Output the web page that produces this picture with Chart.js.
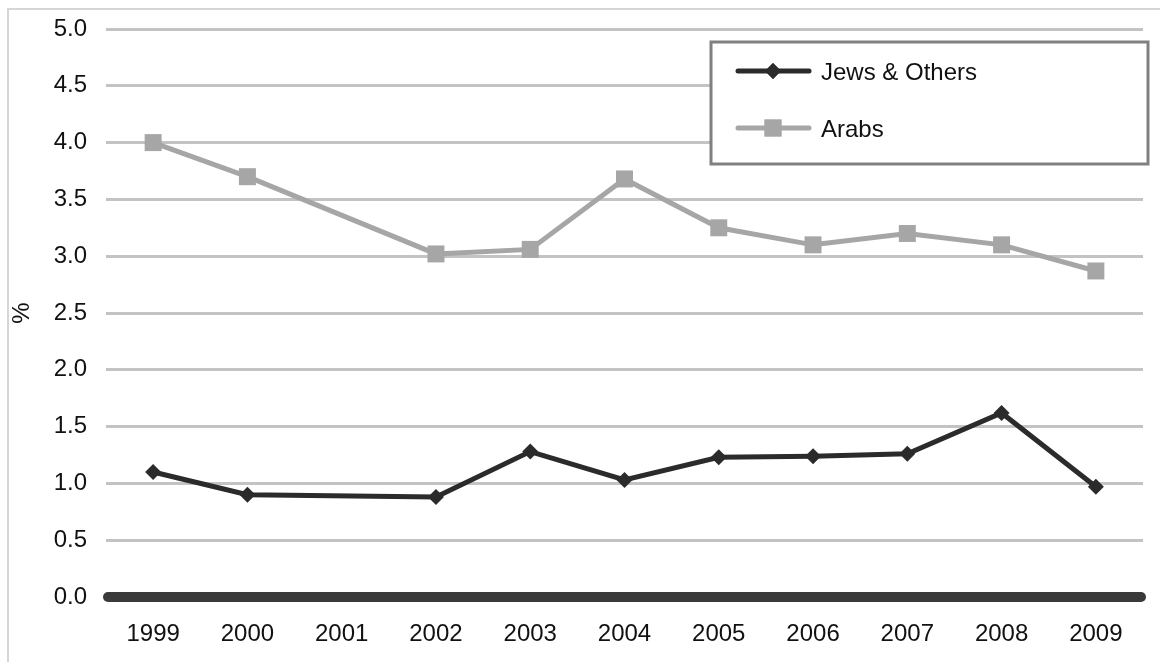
<!DOCTYPE html>
<html>
<head>
<meta charset="utf-8">
<script src="https://cdn.jsdelivr.net/npm/chart.js@4"></script>
<style>
  html, body { margin: 0; padding: 0; background: #fff; }
  #wrap { position: relative; width: 1160px; height: 662px; }
</style>
</head>
<body>
<div id="wrap"><canvas id="rateChart" width="1160" height="662"></canvas></div>
<script>
// ── Data ──────────────────────────────────────────────────────────────────────
const years       = ['1999', '2000', '2001', '2002', '2003', '2004', '2005', '2006', '2007', '2008', '2009'];
const jewsOthers  = [1.10, 0.90, null, 0.88, 1.28, 1.03, 1.23, 1.24, 1.26, 1.62, 0.97];
const arabs       = [4.00, 3.70, null, 3.02, 3.06, 3.68, 3.25, 3.10, 3.20, 3.10, 2.87];
const yTicks      = [0, 0.5, 1, 1.5, 2, 2.5, 3, 3.5, 4, 4.5, 5];

const FONT = '"Liberation Sans", Arial, sans-serif';
const DARK = '#2b2b2b';
const GREY = '#a6a6a6';

// ── Plugins ───────────────────────────────────────────────────────────────────

// light frame around the whole picture
const framePlugin = {
  id: 'frame',
  beforeDraw(chart) {
    const ctx = chart.ctx;
    ctx.save();
    ctx.strokeStyle = '#d6d6d6';
    ctx.lineWidth = 2;
    ctx.strokeRect(8, 9, 1300, 800);
    ctx.restore();
  }
};

// thick zero baseline with round ends
const zeroLine = {
  id: 'zeroLine',
  afterDatasetsDraw(chart) {
    const { ctx, chartArea, scales } = chart;
    const y = scales.y.getPixelForValue(0);
    ctx.save();
    ctx.strokeStyle = '#3a3a3a';
    ctx.lineWidth = 10;
    ctx.lineCap = 'round';
    ctx.beginPath();
    ctx.moveTo(chartArea.left + 2, y);
    ctx.lineTo(chartArea.right - 2, y);
    ctx.stroke();
    ctx.restore();
  }
};

// boxed legend, top right inside the plot
const boxLegend = {
  id: 'boxLegend',
  afterDraw(chart) {
    const ctx = chart.ctx;
    const box = { x: 711, y: 42, w: 437, h: 122 };
    ctx.save();
    ctx.fillStyle = '#fff';
    ctx.fillRect(box.x, box.y, box.w, box.h);
    ctx.strokeStyle = '#808080';
    ctx.lineWidth = 3;
    ctx.strokeRect(box.x, box.y, box.w, box.h);

    const rows = [71, 128];
    chart.data.datasets.forEach((ds, i) => {
      const y = rows[i];
      ctx.strokeStyle = ds.borderColor;
      ctx.lineWidth = ds.borderWidth;
      ctx.lineCap = 'round';
      ctx.beginPath();
      ctx.moveTo(738, y);
      ctx.lineTo(809, y);
      ctx.stroke();
      ctx.fillStyle = ds.pointBackgroundColor;
      Chart.helpers.drawPoint(ctx, { pointStyle: ds.pointStyle, radius: ds.pointRadius, borderWidth: 0 }, 773, y);
      ctx.fill();
      ctx.fillStyle = '#111';
      ctx.font = '24px ' + FONT;
      ctx.textBaseline = 'middle';
      ctx.fillText(ds.label, 821, y + 2);
    });
    ctx.restore();
  }
};

// ── Chart ─────────────────────────────────────────────────────────────────────

new Chart(document.getElementById('rateChart'), {
  type: 'line',
  data: {
    labels: years,
    datasets: [
      {
        label: 'Jews & Others',
        data: jewsOthers,
        borderColor: DARK,
        backgroundColor: DARK,
        pointBackgroundColor: DARK,
        pointBorderWidth: 0,
        borderWidth: 5,
        pointStyle: 'rectRot',
        pointRadius: 8,
        spanGaps: true,
        tension: 0
      },
      {
        label: 'Arabs',
        data: arabs,
        borderColor: GREY,
        backgroundColor: GREY,
        pointBackgroundColor: GREY,
        pointBorderWidth: 0,
        borderWidth: 5,
        pointStyle: 'rect',
        pointRadius: 12,
        spanGaps: true,
        tension: 0
      }
    ]
  },
  options: {
    responsive: false,
    animation: false,
    layout: { padding: { top: 29, right: 17, left: 0, bottom: 0 } },
    plugins: {
      legend: { display: false },
      tooltip: { enabled: false }
    },
    scales: {
      x: {
        offset: true,
        grid: { display: false, drawTicks: false },
        border: { display: false },
        ticks: { color: '#111', font: { family: FONT, size: 24 }, padding: 23, maxRotation: 0 },
        afterFit: s => { s.height = 65; s.paddingLeft = 0; s.paddingRight = 0; }
      },
      y: {
        min: 0,
        max: 5,
        afterBuildTicks: s => { s.ticks = yTicks.map(v => ({ value: v })); },
        grid: {
          drawTicks: false,
          color: c => c.tick && c.tick.value === 0 ? 'rgba(0,0,0,0)' : '#c3c3c3',
          lineWidth: 3
        },
        border: { display: false },
        ticks: {
          color: '#111',
          font: { family: FONT, size: 24 },
          padding: 19,
          callback: v => Number(v).toFixed(1)
        },
        title: {
          display: true,
          text: '%',
          color: '#111',
          font: { family: FONT, size: 24 },
          padding: { top: 8, bottom: 0 }
        },
        afterFit: s => { s.width = 106; s.paddingTop = 0; s.paddingBottom = 0; }
      }
    }
  },
  plugins: [framePlugin, zeroLine, boxLegend]
});
</script>
</body>
</html>
